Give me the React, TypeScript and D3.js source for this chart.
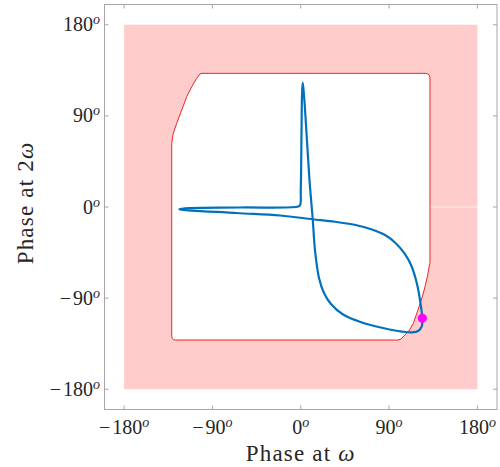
import React, { useEffect, useRef } from "react";
import * as d3 from "d3";

// phase ticks (degrees)
const ticks = [-180, -90, 0, 90, 180];

// periodic orbit: phase at omega / phase at 2omega (degrees)
const orbitPhase1 = [
  123.9, 123.4, 122.0, 120.0, 116.9, 112.4, 105.7, 97.1, 85.9, 72.6, 57.0, 34.9,
  12.2, -21.1, -65.3, -123.8, -118, -61.9, -3.8, -0.8, 0, 0.8, 1.3, 2, 3.3, 6.1,
  8.9, 12.2, 14.5, 18.6, 23.7, 30.8, 43.1, 62.4, 83.8, 103.2, 113.4, 120, 123.3,
  123.9,
];
const orbitPhase2 = [
  -109.9, -104.7, -94.8, -83.0, -70.1, -57.3, -45.9, -36.0, -27.7, -22.2, -18.0,
  -14.6, -12.1, -8.4, -5.9, -2.3, -1.3, -0.5, 0.2, 1.5, 16.8, 76, 110.6, 122.8,
  110.6, 69.4, 26.7, -12.1, -42.5, -70.1, -84.9, -95.8, -106.2, -114.1, -119.5,
  -123, -123.8, -122.2, -118, -109.9,
];

// boundary of the admissible region
const boundaryPhase1 = [
  -131.5, -131.5, -129.9, -126.4, -121.3, -116.2, -111.1, -106.0, -102.7, -100.6,
  127, 129.5, 131, 131.7, 131.7, 131, 129.2, 126.6, 124.1, 121.2, 118, 114.7,
  110.8, 106.2, 102.1, 99.1, -127.5, -129.8, -131.1, -131.5,
];
const boundaryPhase2 = [
  -127.5, 62.9, 72.8, 82.7, 95.8, 108.9, 118.8, 127.1, 131.4, 132, 132, 131.5,
  130.2, 128, -55, -58.3, -68.1, -78.7, -87.9, -96.8, -105.7, -114.9, -121.5,
  -126.4, -130.4, -131.4, -131.4, -131, -129.7, -127.5,
];

// current state marker
const marker = [123.9, -109.9];

const App = () => {
  const ref = useRef<SVGSVGElement>(null);

  useEffect(() => {
    document.body.style.margin = "0";
    const svg = d3.select(ref.current);
    svg.selectAll("*").remove();

    const left = 104.5,
      right = 497,
      top = 4.5,
      bottom = 409.5;
    const x = d3.scaleLinear().domain([-200, 200]).range([left, right]);
    const y = d3.scaleLinear().domain([-200, 200]).range([bottom, top]);
    const font = "'Liberation Serif', 'Times New Roman', serif";

    // pink forbidden zone
    svg
      .append("rect")
      .attr("x", x(-180))
      .attr("y", y(180))
      .attr("width", x(180) - x(-180))
      .attr("height", y(-180) - y(180))
      .attr("fill", "#ffcccc");

    svg
      .append("line")
      .attr("x1", x(131.7))
      .attr("x2", x(180))
      .attr("y1", y(0))
      .attr("y2", y(0))
      .attr("stroke", "#fff")
      .attr("stroke-opacity", 0.6)
      .attr("stroke-width", 1);

    // admissible region
    const bnd = boundaryPhase1.map((v, i) => [v, boundaryPhase2[i]]);
    const area = d3
      .line()
      .x((d) => x(d[0]))
      .y((d) => y(d[1]));
    svg
      .append("path")
      .attr("d", area(bnd as [number, number][]) + "Z")
      .attr("fill", "#fff")
      .attr("stroke", "#e8262b")
      .attr("stroke-width", 1)
      .attr("stroke-linejoin", "round");

    // orbit
    const orbit = orbitPhase1.map((v, i) => [v, orbitPhase2[i]]);
    const line = d3
      .line()
      .x((d) => x(d[0]))
      .y((d) => y(d[1]))
      .curve(d3.curveCatmullRom.alpha(0.5));
    svg
      .append("path")
      .attr("d", line(orbit as [number, number][]))
      .attr("fill", "none")
      .attr("stroke", "#0072bd")
      .attr("stroke-width", 2.2)
      .attr("stroke-linejoin", "round");

    svg
      .append("circle")
      .attr("cx", x(marker[0]))
      .attr("cy", y(marker[1]))
      .attr("r", 4.6)
      .attr("fill", "#ff00ff");

    // axes box
    const axisColor = "#a6a6a6";
    svg
      .append("rect")
      .attr("x", left)
      .attr("y", top)
      .attr("width", right - left)
      .attr("height", bottom - top)
      .attr("fill", "none")
      .attr("stroke", axisColor)
      .attr("stroke-width", 1);

    const tl = 4;
    const tg = svg.append("g").attr("stroke", axisColor).attr("stroke-width", 1);
    ticks.forEach((t) => {
      tg.append("line").attr("x1", x(t)).attr("x2", x(t)).attr("y1", bottom).attr("y2", bottom - tl);
      tg.append("line").attr("x1", x(t)).attr("x2", x(t)).attr("y1", top).attr("y2", top + tl);
      tg.append("line").attr("y1", y(t)).attr("y2", y(t)).attr("x1", left).attr("x2", left + tl);
      tg.append("line").attr("y1", y(t)).attr("y2", y(t)).attr("x1", right).attr("x2", right - tl);
    });

    const addLabel = (sel: any, t: number) => {
      if (t < 0) sel.append("tspan").text("\u2212");
      sel
        .append("tspan")
        .attr("dx", t < 0 ? 2 : 0)
        .text(String(Math.abs(t)));
      sel
        .append("tspan")
        .attr("font-size", 14)
        .attr("font-style", "italic")
        .attr("dy", -7)
        .text("o");
    };

    ticks.forEach((t) => {
      const tx = svg
        .append("text")
        .attr("x", x(t))
        .attr("y", 434)
        .attr("text-anchor", "middle")
        .attr("font-family", font)
        .attr("font-size", 20)
        .attr("fill", "#262626");
      addLabel(tx, t);
      const ty = svg
        .append("text")
        .attr("x", 100)
        .attr("y", y(t) + 6.5)
        .attr("text-anchor", "end")
        .attr("font-family", font)
        .attr("font-size", 20)
        .attr("fill", "#262626");
      addLabel(ty, t);
    });

    // axis titles
    const xl = svg
      .append("text")
      .attr("x", (left + right) / 2)
      .attr("y", 461)
      .attr("text-anchor", "middle")
      .attr("font-family", font)
      .attr("font-size", 23)
      .attr("letter-spacing", 1.2)
      .attr("fill", "#262626");
    xl.append("tspan").text("Phase at ");
    xl.append("tspan").attr("font-style", "italic").text("\u03c9");

    const yl = svg
      .append("text")
      .attr("transform", `translate(33, ${(top + bottom) / 2 - 4}) rotate(-90)`)
      .attr("text-anchor", "middle")
      .attr("font-family", font)
      .attr("font-size", 23)
      .attr("letter-spacing", 1.2)
      .attr("fill", "#262626");
    yl.append("tspan").text("Phase at 2");
    yl.append("tspan").attr("font-style", "italic").text("\u03c9");
  }, []);

  return <svg ref={ref} width={500} height={467} style={{ display: "block" }} />;
};

export default App;
